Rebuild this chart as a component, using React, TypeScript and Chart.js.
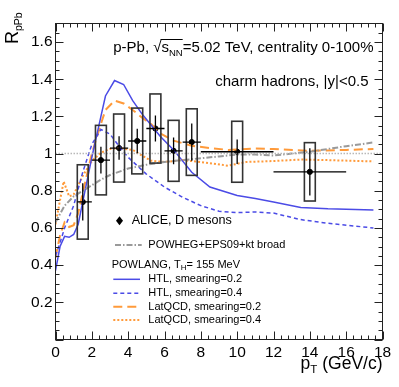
import React, { useEffect, useRef } from 'react';
import { Chart, registerables } from 'chart.js';

Chart.register(...registerables);

const FONT = '"Liberation Sans", Arial, Helvetica, sans-serif';

// ---------- axes ----------
const xTicks = [0, 2, 4, 6, 8, 10, 12, 14, 16, 18];
const yTicks = [0.2, 0.4, 0.6, 0.8, 1.0, 1.2, 1.4, 1.6];

// ---------- ALICE D mesons ----------
const alicePt = [1.5, 2.5, 3.5, 4.5, 5.5, 6.5, 7.5, 10, 14];
const aliceR = [0.74, 0.965, 1.03, 1.068, 1.135, 1.015, 1.062, 1.01, 0.902];
const aliceStat = [0.1, 0.072, 0.063, 0.066, 0.07, 0.072, 0.1, 0.066, 0.127];
const aliceSyst = [0.2, 0.187, 0.183, 0.177, 0.186, 0.164, 0.179, 0.164, 0.157];
const aliceXLow = [0.3, 0.5, 0.5, 0.5, 0.5, 0.5, 0.5, 2, 2];
const aliceXHigh = [0.5, 0.5, 0.5, 0.5, 0.5, 0.5, 0.5, 2, 2];
const systHalfWidth = 0.3;

// ---------- POWHEG+EPS09+kt broad ----------
const powhegPt = [0, 0.5, 1, 1.5, 2, 2.5, 3, 4, 5, 6, 7, 8, 9, 10, 11, 12, 13, 14, 15, 16, 17.5];
const powhegR = [0.63, 0.72, 0.77, 0.8, 0.83, 0.86, 0.885, 0.92, 0.94, 0.955, 0.965, 0.975, 0.985, 0.995, 0.995, 0.99, 1.0, 1.01, 1.025, 1.04, 1.06];

// ---------- POWLANG HTL smearing 0.2 ----------
const htl02Pt = [0, 0.25, 0.5, 0.75, 1.0, 1.25, 1.5, 2.0, 2.5, 2.75, 3.25, 3.75, 4.25, 4.75, 5.25, 5.75, 6.5, 7.5, 8.5, 10, 11, 12, 13.5, 15, 17.5];
const htl02R = [0.37, 0.5, 0.555, 0.55, 0.565, 0.62, 0.74, 0.98, 1.2, 1.31, 1.393, 1.372, 1.285, 1.215, 1.155, 1.095, 1.02, 0.9, 0.82, 0.775, 0.758, 0.74, 0.71, 0.703, 0.697];

// ---------- POWLANG HTL smearing 0.4 ----------
const htl04Pt = [0, 0.25, 0.5, 0.75, 1.0, 1.5, 2.0, 2.5, 3.0, 3.5, 4.0, 5.0, 6.0, 7.0, 8.0, 9.0, 10, 11, 12, 13.5, 15, 16.5, 17.5];
const htl04R = [0.45, 0.52, 0.6, 0.66, 0.72, 0.9, 1.05, 1.13, 1.105, 1.04, 0.98, 0.89, 0.82, 0.765, 0.72, 0.69, 0.683, 0.686, 0.68, 0.645, 0.625, 0.61, 0.6];

// ---------- POWLANG LatQCD smearing 0.2 ----------
const lat02Pt = [0, 0.25, 0.5, 0.75, 1.0, 1.25, 1.5, 2.0, 2.5, 2.75, 3.25, 3.75, 4.25, 4.75, 5.25, 5.75, 6.5, 7.5, 8.5, 9.5, 11, 12, 14, 16, 17.5];
const lat02R = [0.44, 0.56, 0.63, 0.605, 0.615, 0.68, 0.79, 1.0, 1.16, 1.235, 1.285, 1.27, 1.235, 1.195, 1.16, 1.11, 1.07, 1.042, 1.03, 1.02, 1.027, 1.025, 1.015, 1.02, 1.025];

// ---------- POWLANG LatQCD smearing 0.4 ----------
const lat04Pt = [0, 0.25, 0.45, 0.75, 1.0, 1.25, 1.5, 2.0, 2.5, 3.0, 3.5, 4.25, 4.75, 5.25, 6.0, 7.0, 8.0, 9.5, 10.5, 12, 13.5, 15, 17.5];
const lat04R = [0.62, 0.75, 0.85, 0.77, 0.78, 0.83, 0.88, 0.96, 1.005, 1.025, 1.03, 1.02, 0.99, 0.962, 0.955, 0.965, 0.955, 0.935, 0.955, 0.96, 0.968, 0.965, 0.958];

// reference line at unity
const unityPt = [0, 18];
const unityR = [1, 1];

// ---------- legend labels ----------
const legendAlice = 'ALICE, D mesons';
const legendPowheg = 'POWHEG+EPS09+kt broad';
const legendPowlangHead = 'POWLANG, T';
const legendPowlangSub = 'H';
const legendPowlangTail = '= 155 MeV';
const legendHtl02 = 'HTL, smearing=0.2';
const legendHtl04 = 'HTL, smearing=0.4';
const legendLat02 = 'LatQCD, smearing=0.2';
const legendLat04 = 'LatQCD, smearing=0.4';

const BLUE = '#4b4be6';
const ORANGE = '#ff9a3a';
const GREY = '#9a9a9a';

const pts = (xs: number[], ys: number[]) => xs.map((x, i) => ({ x, y: ys[i] }));

const lineDs = (label: string, xs: number[], ys: number[], color: string, width: number, dash: number[]) => ({
  type: 'line' as const,
  label,
  data: pts(xs, ys),
  borderColor: color,
  backgroundColor: color,
  borderWidth: width,
  borderDash: dash,
  pointRadius: 0,
  fill: false,
  tension: 0,
});

type Part = { t: string; size: number; dy?: number };

function drawRich(ctx: CanvasRenderingContext2D, parts: Part[], x: number, y: number, align: 'left' | 'right') {
  ctx.textAlign = 'left';
  let total = 0;
  const widths = parts.map((p) => {
    ctx.font = `${p.size}px ${FONT}`;
    const w = ctx.measureText(p.t).width;
    total += w;
    return w;
  });
  let cx = align === 'right' ? x - total : x;
  parts.forEach((p, i) => {
    ctx.font = `${p.size}px ${FONT}`;
    ctx.fillText(p.t, cx, y + (p.dy || 0));
    cx += widths[i];
  });
  return { start: align === 'right' ? x - total : x, widths };
}

const decor = {
  id: 'decor',
  afterDatasetsDraw(chart: any) {
    const { ctx, chartArea: a, scales } = chart;
    const xs = scales.x;
    const ys = scales.y;
    ctx.save();
    ctx.beginPath();
    ctx.rect(a.left, a.top, a.right - a.left, a.bottom - a.top);
    ctx.clip();
    // systematic boxes
    ctx.strokeStyle = '#333';
    ctx.lineWidth = 1.6;
    alicePt.forEach((pt, i) => {
      const x0 = xs.getPixelForValue(pt - systHalfWidth);
      const x1 = xs.getPixelForValue(pt + systHalfWidth);
      const y0 = ys.getPixelForValue(aliceR[i] + aliceSyst[i]);
      const y1 = ys.getPixelForValue(aliceR[i] - aliceSyst[i]);
      ctx.strokeRect(x0, y0, x1 - x0, y1 - y0);
    });
    // stat error bars
    ctx.strokeStyle = '#000';
    ctx.lineWidth = 1.3;
    alicePt.forEach((pt, i) => {
      const yc = ys.getPixelForValue(aliceR[i]);
      const xc = xs.getPixelForValue(pt);
      ctx.beginPath();
      ctx.moveTo(xs.getPixelForValue(pt - aliceXLow[i]), yc);
      ctx.lineTo(xs.getPixelForValue(pt + aliceXHigh[i]), yc);
      ctx.moveTo(xc, ys.getPixelForValue(aliceR[i] + aliceStat[i]));
      ctx.lineTo(xc, ys.getPixelForValue(aliceR[i] - aliceStat[i]));
      ctx.stroke();
    });
    ctx.restore();
  },
  afterDraw(chart: any) {
    const { ctx, chartArea: a, scales } = chart;
    const xs = scales.x;
    const ys = scales.y;
    ctx.save();
    // frame
    ctx.strokeStyle = '#222';
    ctx.lineWidth = 1;
    ctx.strokeRect(a.left, a.top, a.right - a.left, a.bottom - a.top);
    // ticks
    ctx.beginPath();
    for (let v = 0; v <= 18.0001; v += 0.4) {
      const major = Math.abs(v / 2 - Math.round(v / 2)) < 1e-6;
      const px = Math.round(xs.getPixelForValue(v)) + 0.5;
      const len = major ? 8 : 4;
      ctx.moveTo(px, a.bottom);
      ctx.lineTo(px, a.bottom - len);
      ctx.moveTo(px, a.top);
      ctx.lineTo(px, a.top + len);
    }
    for (let v = 0; v <= 1.7001; v += 0.05) {
      const major = Math.abs(v / 0.2 - Math.round(v / 0.2)) < 1e-6;
      const py = Math.round(ys.getPixelForValue(v)) + 0.5;
      const len = major ? 8 : 4;
      ctx.moveTo(a.left, py);
      ctx.lineTo(a.left + len, py);
      ctx.moveTo(a.right, py);
      ctx.lineTo(a.right - len, py);
    }
    ctx.stroke();

    ctx.fillStyle = '#000';
    ctx.textBaseline = 'alphabetic';
    // x title
    drawRich(ctx, [
      { t: 'p', size: 17.5 },
      { t: 'T', size: 11.5, dy: 4 },
      { t: ' (GeV/c)', size: 17.5 },
    ], a.right, 369, 'right');

    // y title (rotated)
    ctx.save();
    ctx.translate(18, 44);
    ctx.rotate(-Math.PI / 2);
    drawRich(ctx, [
      { t: 'R', size: 18 },
      { t: 'pPb', size: 10.5, dy: 4 },
    ], 0, 0, 'left');
    ctx.restore();

    // header texts
    const r = drawRich(ctx, [
      { t: 'p-Pb, ', size: 15 },
      { t: '\u221A', size: 15 },
      { t: 's', size: 15 },
      { t: 'NN', size: 9.5, dy: 4 },
      { t: '=5.02 TeV, centrality 0-100%', size: 15 },
    ], 373.5, 52, 'right');
    const ox0 = r.start + r.widths[0] + r.widths[1] - 1;
    const ox1 = ox0 + 1 + r.widths[2] + r.widths[3];
    ctx.lineWidth = 1;
    ctx.strokeStyle = '#000';
    ctx.beginPath();
    ctx.moveTo(ox0, 52 - 12.5);
    ctx.lineTo(ox1, 52 - 12.5);
    ctx.stroke();

    drawRich(ctx, [{ t: 'charm hadrons, |y|<0.5', size: 15 }], 368.5, 85.5, 'right');

    // legend
    ctx.textBaseline = 'middle';
    ctx.textAlign = 'left';
    // ALICE marker
    ctx.beginPath();
    const mx = 119.5, my = 220.7;
    ctx.moveTo(mx, my - 4.5);
    ctx.lineTo(mx + 3.5, my);
    ctx.lineTo(mx, my + 4.5);
    ctx.lineTo(mx - 3.5, my);
    ctx.closePath();
    ctx.fill();
    ctx.font = `12.6px ${FONT}`;
    ctx.fillText(legendAlice, 131.7, my);

    const sample = (y: number, color: string, width: number, dash: number[], x0: number, x1: number) => {
      ctx.save();
      ctx.strokeStyle = color;
      ctx.lineWidth = width;
      ctx.setLineDash(dash);
      ctx.beginPath();
      ctx.moveTo(x0, y);
      ctx.lineTo(x1, y);
      ctx.stroke();
      ctx.restore();
    };
    sample(245, GREY, 2, [6, 2, 1.5, 2], 115, 141.7);
    ctx.font = `11px ${FONT}`;
    ctx.fillText(legendPowheg, 148.3, 245);

    drawRich(ctx, [
      { t: legendPowlangHead, size: 11 },
      { t: legendPowlangSub, size: 8, dy: 3 },
      { t: legendPowlangTail, size: 11 },
    ], 111.7, 265, 'left');

    const rows: [string, string, number, number[], number][] = [
      [legendHtl02, BLUE, 1.5, [], 279.3],
      [legendHtl04, BLUE, 1.5, [4, 3], 293.3],
      [legendLat02, ORANGE, 2, [9, 5], 306.7],
      [legendLat04, ORANGE, 2, [2, 2], 320],
    ];
    rows.forEach(([label, color, w, dash, y]) => {
      sample(y, color, w, dash, 113.3, 140);
      ctx.font = `11px ${FONT}`;
      ctx.textAlign = 'left';
      ctx.fillText(label, 148.3, y);
    });
    ctx.restore();
  },
};

const App = () => {
  const ref = useRef<HTMLCanvasElement>(null);
  useEffect(() => {
    const canvas = ref.current;
    if (!canvas) return;
    const chart = new Chart(canvas, {
      type: 'line',
      data: {
        datasets: [
          lineDs('unity', unityPt, unityR, '#b8b8b8', 1.5, [1.5, 1.5]),
          lineDs(legendPowheg, powhegPt, powhegR, GREY, 2, [6, 2, 1.5, 2]),
          lineDs(legendHtl02, htl02Pt, htl02R, BLUE, 1.5, []),
          lineDs(legendHtl04, htl04Pt, htl04R, BLUE, 1.5, [4, 3]),
          lineDs(legendLat02, lat02Pt, lat02R, ORANGE, 2, [9, 5]),
          lineDs(legendLat04, lat04Pt, lat04R, ORANGE, 2, [2, 2]),
          {
            type: 'scatter' as const,
            label: legendAlice,
            data: pts(alicePt, aliceR),
            pointRadius: 2.6,
            pointBackgroundColor: '#000',
            pointBorderColor: '#000',
            showLine: false,
          } as any,
        ],
      },
      options: {
        responsive: false,
        animation: false,
        devicePixelRatio: 1,
        events: [],
        layout: { padding: { left: 0, right: 16.5, top: 23.5, bottom: 0 } },
        plugins: { legend: { display: false }, tooltip: { enabled: false } },
        scales: {
          x: {
            type: 'linear',
            min: 0,
            max: 18,
            grid: { display: false, drawTicks: false },
            border: { display: false },
            ticks: {
              font: { family: FONT, size: 15.5 },
              color: '#000',
              padding: 4,
              maxRotation: 0,
              autoSkip: false,
              callback: (v: any) => String(v),
            },
            afterBuildTicks: (s: any) => { s.ticks = xTicks.map((value) => ({ value })); },
            afterFit: (s: any) => { s.height = 47.5; },
          },
          y: {
            type: 'linear',
            min: 0,
            max: 1.7,
            grid: { display: false, drawTicks: false },
            border: { display: false },
            ticks: {
              font: { family: FONT, size: 15.5 },
              color: '#000',
              padding: 3,
              autoSkip: false,
              callback: (v: any) => (Math.abs(v - 1) < 1e-9 ? '1' : Number(v).toFixed(1)),
            },
            afterBuildTicks: (s: any) => { s.ticks = yTicks.map((value) => ({ value })); },
            afterFit: (s: any) => { s.width = 55.5; },
          },
        },
      } as any,
      plugins: [decor],
    });
    return () => chart.destroy();
  }, []);
  return (
    <div style={{ position: 'absolute', left: 0, top: 0, width: 399, height: 387, background: '#fff' }}>
      <canvas ref={ref} width={399} height={387} style={{ display: 'block', width: 399, height: 387 }} />
    </div>
  );
};

export default App;
